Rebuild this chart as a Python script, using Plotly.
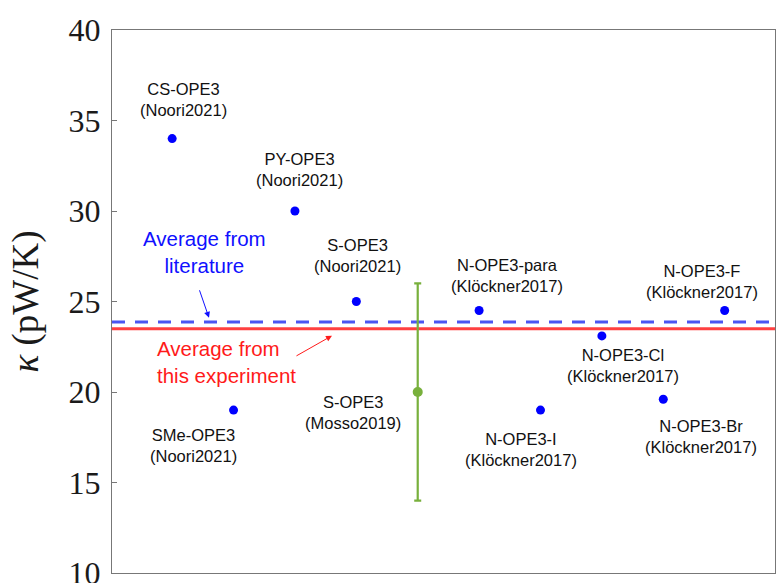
import plotly.graph_objects as go

# Thermal conductance of OPE3 derivatives: literature values vs. this experiment
molecules = ["CS-OPE3", "SMe-OPE3", "PY-OPE3", "S-OPE3", "S-OPE3",
             "N-OPE3-para", "N-OPE3-I", "N-OPE3-Cl", "N-OPE3-Br", "N-OPE3-F"]
sources = ["Noori2021", "Noori2021", "Noori2021", "Noori2021", "Mosso2019",
           "Klöckner2017", "Klöckner2017", "Klöckner2017", "Klöckner2017", "Klöckner2017"]
kappa = [34.0, 19.0, 30.0, 25.0, 20.0, 24.5, 19.0, 23.1, 19.6, 24.5]
positions = list(range(1, len(kappa) + 1))

# measured point (Mosso2019) and its uncertainty
measured_index = 4
measured_error = 6.0

# averages
avg_literature = sum(kappa) / len(kappa)
avg_experiment = 23.5

y_ticks = [10, 15, 20, 25, 30, 35, 40]

# label placement relative to each marker, in pixels (dx, dy; screen y downwards)
label_offsets = [(11, -39), (-40, 35), (5, -42), (1, -46), (-65, 20),
                 (28, -35.5), (-19, 39.5), (21, 29.5), (38, 37.5), (-23, -29.5)]

BLUE = "#0000ff"
GREEN = "#78b03c"
FRAME = "#777777"

fig = go.Figure()

# horizontal reference lines
fig.add_hline(y=avg_experiment, line=dict(color="#ff4040", width=3), layer="below")
fig.add_hline(y=avg_literature, line=dict(color="#4a55f2", width=3, dash="13px,10px"),
              layer="below")

lit_x = [p for i, p in enumerate(positions) if i != measured_index]
lit_y = [k for i, k in enumerate(kappa) if i != measured_index]
fig.add_trace(go.Scatter(
    x=lit_x, y=lit_y, mode="markers",
    marker=dict(color=BLUE, size=9, line=dict(width=0)),
    showlegend=False, hoverinfo="skip"))

fig.add_trace(go.Scatter(
    x=[positions[measured_index]], y=[kappa[measured_index]], mode="markers",
    marker=dict(color=GREEN, size=10, line=dict(width=0)),
    error_y=dict(type="data", array=[measured_error], color=GREEN,
                 thickness=2.2, width=3.5),
    showlegend=False, hoverinfo="skip"))

annotations = []
for x, y, name, src, (dx, dy) in zip(positions, kappa, molecules, sources, label_offsets):
    annotations.append(dict(
        x=x, y=y, xref="x", yref="y", text=f"{name}<br>({src})",
        showarrow=False, xshift=dx, yshift=-dy, align="center",
        xanchor="center", yanchor="middle",
        font=dict(family="Liberation Sans, Arial", size=16.5, color="#111111")))

annotations += [
    dict(x=0.139, y=0.5915, xref="paper", yref="paper",
         text="Average from<br>literature", showarrow=False, align="center",
         xanchor="center", yanchor="middle",
         font=dict(family="Liberation Sans, Arial", size=20.5, color="#1010ff")),
    dict(x=0.0649, y=0.389, xref="paper", yref="paper",
         text="Average from<br>this experiment", showarrow=False, align="left",
         xanchor="left", yanchor="middle",
         font=dict(family="Liberation Sans, Arial", size=20.5, color="#ff1a1a")),
    dict(x=0.1463, y=0.470, xref="paper", yref="paper", text="",
         showarrow=True, ax=-10, ay=-29, arrowhead=2, arrowsize=1.2,
         arrowwidth=1, arrowcolor="#1010ff", standoff=0),
    dict(x=0.3318, y=0.437, xref="paper", yref="paper", text="",
         showarrow=True, ax=-37, ay=21, arrowhead=2, arrowsize=1.2,
         arrowwidth=1, arrowcolor="#ff1a1a", standoff=0),
]

fig.update_layout(
    width=776, height=583,
    margin=dict(l=112, r=1, t=30, b=10),
    paper_bgcolor="white", plot_bgcolor="white",
    annotations=annotations,
    xaxis=dict(range=[0.02, 10.82], showgrid=False, zeroline=False,
               showticklabels=False, ticks="", showline=True, mirror=True,
               linecolor=FRAME, linewidth=1, automargin=False),
    yaxis=dict(range=[10, 40], tickvals=y_ticks, showgrid=False, zeroline=False,
               ticks="inside", ticklen=5, tickcolor=FRAME, showline=True,
               mirror=True, linecolor=FRAME, linewidth=1, automargin=False,
               ticklabelstandoff=4, ticklabeloverflow="allow",
               tickfont=dict(family="Liberation Serif, Times New Roman", size=32,
                             color="#1a1a1a"),
               title=dict(text="<i>κ</i> (pW/K)", standoff=18,
                          font=dict(family="Liberation Serif, Times New Roman",
                                    size=37, color="#1a1a1a"))),
)

fig.write_html("out.html")
